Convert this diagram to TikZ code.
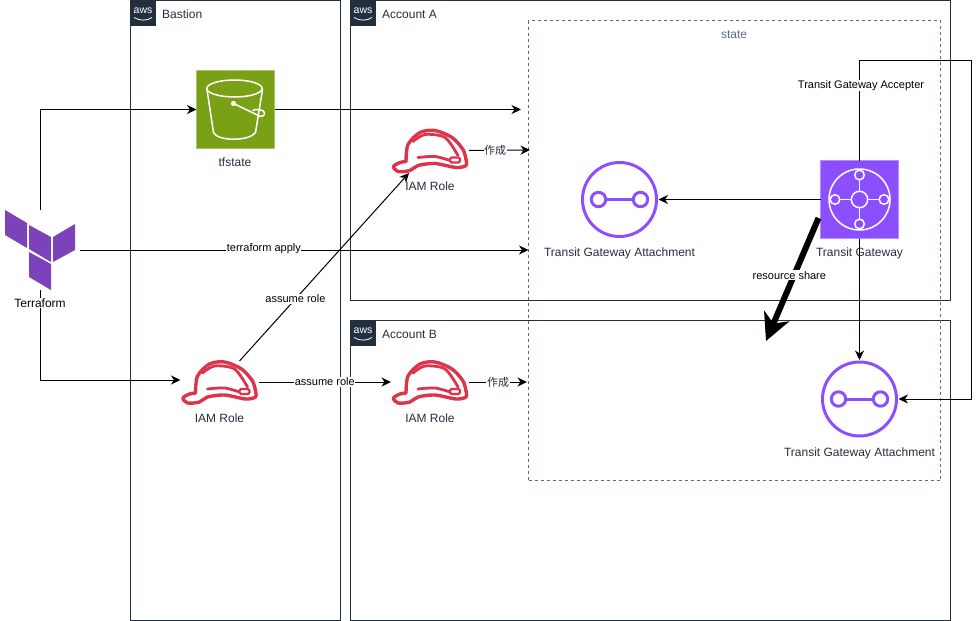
\documentclass[tikz,border=0pt]{standalone}
\usepackage{fontspec}
\setmainfont{Liberation Sans}
\newfontfamily\cjk{Noto Sans CJK JP}
\usetikzlibrary{arrows.meta,calc}

\definecolor{awsdark}{HTML}{232F3E}
\definecolor{stateblue}{HTML}{5A6C86}
\definecolor{s3green}{HTML}{7AA116}
\definecolor{tgwpurple}{HTML}{8C4FFF}
\definecolor{iamred}{HTML}{DD344C}
\definecolor{tfpurple}{HTML}{7B42BC}

\tikzset{
  group/.style={draw=awsdark, line width=1pt, anchor=north west, inner sep=0pt, outer sep=0pt},
  grouplabel/.style={anchor=west, inner sep=0pt, text=awsdark, font=\fontsize{12}{14}\selectfont},
  iconbox/.style={inner sep=0pt, outer sep=0pt, minimum width=78pt, minimum height=78pt},
  iconlabel/.style={inner sep=0pt, text=awsdark, font=\fontsize{12}{14}\selectfont},
  edgelabel/.style={fill=white, inner sep=0.6pt, text=black, font=\fontsize{11}{13}\selectfont},
  link/.style={draw=black, line width=1pt, -{Stealth[length=9.5pt,width=9pt,inset=3pt]}},
  awslogo/.pic={
    \fill[awsdark] (0,0) rectangle (25,25);
    \node[inner sep=0pt, text=white, font=\fontsize{10.5}{12}\selectfont] (-text) at (12.5,10.5) {aws};
    \draw[white, line width=0.8pt] (3.5,17) .. controls (9,20.5) and (17,20.5) .. (21.5,17);
  },
  hat/.pic={
    \begin{scope}[iamred, line width=3.4pt, line join=round, line cap=round]
    \draw plot[smooth] coordinates {(-24,11) (-22,-6) (-10,-18) (5,-20) (22,-13) (33,-1) (36,9)};
    \draw plot[smooth] coordinates {(36,9) (36,15) (26,17) (5,13) (-12,15) (-20,20) (-32,21) (-36.5,16) (-30,12) (-24,11)};
    \draw[line width=2.8pt] plot[smooth] coordinates {(-17,-9) (-5,-16) (15,-13) (28,5)};
    \draw[line width=2.8pt] plot[smooth] coordinates {(-12,7) (5,6) (20,10)};
    \draw[line width=2.4pt, rounded corners=1.5pt, fill=white] (20,7) rectangle (30,12);
    \end{scope}
  },
  tgwlink/.pic={
    \begin{scope}[tgwpurple, line width=3pt]
    \draw (0,0) circle (37);
    \draw (-21,0) circle (7.2);
    \draw (21,0) circle (7.2);
    \draw (-13.8,0) -- (13.8,0);
    \end{scope}
  }
}

\begin{document}
\begin{tikzpicture}[x=1pt,y=-1pt]
\useasboundingbox (0,0) rectangle (980,621);

% accounts
\node[group, minimum width=210pt, minimum height=620pt] (bastion) at (130.5,0.5) {};
\node[group, minimum width=600pt, minimum height=300pt] (accounta) at (350.5,0.5) {};
\node[group, minimum width=600pt, minimum height=300pt] (accountb) at (350.5,320.5) {};
\foreach \g in {bastion,accounta,accountb}
  \pic (logo\g) at (\g.north west) {awslogo};
\node[grouplabel] (bastionlabel) at (162,14) {Bastion};
\node[grouplabel] (accountalabel) at (382,14) {Account A};
\node[grouplabel] (accountblabel) at (382,334) {Account B};
\node[draw=stateblue, dashed, line width=1pt, anchor=north west, inner sep=0pt, outer sep=0pt, minimum width=412pt, minimum height=460pt] (state) at (528.5,20.5) {};
\node[inner sep=0pt, text=stateblue, font=\fontsize{12}{14}\selectfont] (statelabel) at (734,35) {state};

% icons
\node[iconbox, minimum width=80pt, minimum height=80pt] (terraform) at (40,250) {};
\fill[tfpurple] (5,210) -- (27,223) -- (27,248) -- (5,235) -- cycle;
\fill[tfpurple] (29,225) -- (51,237) -- (51,262) -- (29,249) -- cycle;
\fill[tfpurple] (53,237) -- (75,224) -- (75,250) -- (53,262) -- cycle;
\fill[tfpurple] (29,252) -- (51,264) -- (51,290) -- (29,277) -- cycle;

\node[iconbox, fill=s3green, draw=s3green!65] (tfstate) at (235.5,109.5) {};
\begin{scope}[shift={(tfstate.center)}, white, line width=1.5pt, line join=round]
\draw (-1,-21) ellipse (27.7 and 8.5);
\draw (-28.5,-20) -- (-22,23) .. controls (-18,32) and (14,32) .. (20,23) -- (27,-20);
\fill (-2,-6) circle (2.6);
\draw (-2,-6) -- (24,6.5) .. controls (29,8) and (31,3) .. (27,1) .. controls (24,0) and (20,-0.5) .. (17,1);
\end{scope}

\node[iconbox, fill=tgwpurple, draw=tgwpurple!65] (tgw) at (859.5,199.5) {};
\begin{scope}[shift={(tgw.center)}, white, line width=1.5pt]
\draw (0,0) circle (30.5);
\draw (0,0) circle (8.2);
\foreach \a in {0,90,180,270} {
  \draw (\a:24.5) circle (4.8);
  \draw (\a:8.2) -- (\a:19.7);
}
\end{scope}

\node[iconbox, minimum height=46pt] (rolea) at (430,150.5) {};
\pic at (rolea) {hat};
\node[iconbox, minimum height=46pt] (rolex) at (219.5,382) {};
\pic at (rolex) {hat};
\node[iconbox, minimum height=46pt] (roleb) at (430,382) {};
\pic at (roleb) {hat};

\node[iconbox] (attacha) at (619.5,199.5) {};
\pic at (attacha) {tgwlink};
\node[iconbox] (attachb) at (859.5,399) {};
\pic at (attachb) {tgwlink};

% free ends
\coordinate (s3end) at (521,109.5);
\coordinate (roleaend) at (530,150);
\coordinate (rolebend) at (527,382);
\coordinate (rolexfoot) at (239.5,361);
\coordinate (roleafoot) at (409,173);
\coordinate (sharestart) at (818.5,218);
\coordinate (shareend) at (766,341);
\coordinate (acceptcorner) at (971,60.5);

% connectors
\draw[link] (terraform.north) |- (tfstate.west);
\draw[link] (terraform.east) -- (state.west |- terraform.east) node[edgelabel, pos=0.41, yshift=1.5pt] (applylabel) {terraform apply};
\draw[link] (terraform.south) |- ([yshift=2pt]rolex.west);
\draw[link] (tfstate.east) -- (s3end);
\draw[link] (rolexfoot) -- (roleafoot) node[edgelabel, pos=0.33] (assumelabela) {assume role};
\draw[link] (rolex.east) -- (roleb.west) node[edgelabel, midway] (assumelabelb) {assume role};
\draw[link] (rolea.east) -- (roleaend) node[edgelabel, pos=0.43, text=awsdark] (makelabela) {\cjk 作成};
\draw[link] (roleb.east) -- (rolebend) node[edgelabel, midway, text=awsdark] (makelabelb) {\cjk 作成};
\draw[link] (tgw.west) -- (attacha.east);
\draw[link] (tgw.south) -- (attachb.north);
\draw[link] (tgw.north) |- (acceptcorner) |- (attachb.east);
\node[edgelabel] (acceptlabel) at (861,85.5) {Transit Gateway Accepter};
\draw[line width=6pt, -{Stealth[length=27pt,width=27pt,inset=8pt]}] (sharestart) -- (shareend) node[edgelabel, pos=0.46, xshift=-5pt, yshift=-0.5pt] (sharelabel) {resource share};

% icon labels
\node[iconlabel, text=black, fill=white, inner sep=1pt] (terraformlabel) at (40,303) {Terraform};
\node[iconlabel] (tfstatelabel) at (235,162) {tfstate};
\node[iconlabel] (rolealabel) at (430,186) {IAM Role};
\node[iconlabel] (rolexlabel) at (219.5,418) {IAM Role};
\node[iconlabel] (roleblabel) at (430,418) {IAM Role};
\node[iconlabel] (attachalabel) at (619.5,253) {Transit Gateway Attachment};
\node[iconlabel] (tgwlabel) at (859.5,253) {Transit Gateway};
\node[iconlabel] (attachblabel) at (859.5,453) {Transit Gateway Attachment};
\end{tikzpicture}
\end{document}
